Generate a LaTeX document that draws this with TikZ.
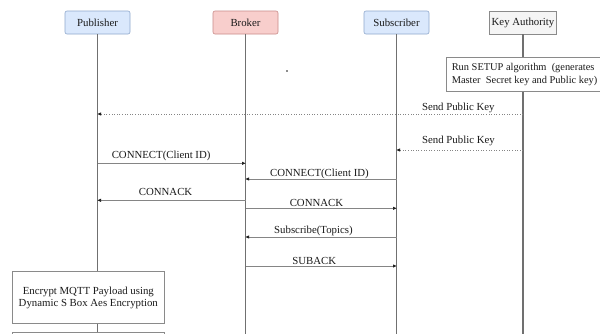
\documentclass[tikz,border=0pt]{standalone}
\usepackage{fontspec}
\setmainfont{Liberation Serif}
\usetikzlibrary{arrows.meta}

\definecolor{pubfill}{HTML}{DAE8FC}
\definecolor{publine}{HTML}{8FA8CC}
\definecolor{brkfill}{HTML}{F8CECC}
\definecolor{brkline}{HTML}{C98A88}
\definecolor{kafill}{HTML}{F5F5F5}
\definecolor{kaline}{HTML}{8A8A8A}
\definecolor{lifegray}{HTML}{707070}
\definecolor{msggray}{HTML}{858585}
\definecolor{ink}{HTML}{1A1A1A}

\tikzset{
  txt/.style={font=\fontsize{10.8}{12}\selectfont, text=ink},
  head/.style={txt, rounded corners=2pt, line width=0.6pt,
    minimum width=65pt, minimum height=23pt, inner sep=0pt},
  plainbox/.style={txt, draw=kaline, fill=white, line width=0.6pt, inner sep=0pt},
  life/.style={draw=lifegray, line width=1.2pt},
  msg/.style={draw=msggray, line width=0.6pt,
    -{Triangle[length=3.5pt,width=3pt,fill=ink,color=ink]}},
  pkmsg/.style={msg, dotted},
  lbl/.style={txt, inner sep=1pt},
}

\begin{document}
\begin{tikzpicture}[x=1pt,y=-1pt]
  \clip (0,0) rectangle (600,333);
  \fill[white] (0,0) rectangle (600,333);

  % participants
  \node[head, fill=pubfill, draw=publine] (pub) at (97.5,22.5) {Publisher};
  \node[head, fill=brkfill, draw=brkline] (brk) at (245.5,22.5) {Broker};
  \node[head, fill=pubfill, draw=publine] (sub) at (396.5,22.5) {Subscriber};
  \node[head, fill=kafill, draw=kaline, rounded corners=0pt,
        minimum width=67pt] (ka) at (523,22.5) {Key Authority};

  % key authority setup step
  \node[plainbox, anchor=north west, minimum height=34pt, inner xsep=5.5pt,
        align=left, font=\fontsize{10.4}{12.5}\selectfont] (setup) at (446,57)
        {Run SETUP algorithm\ \ (generates\\Master\ \ Secret key and Public key)};

  % publisher payload encryption step
  \node[plainbox, minimum width=152pt, minimum height=51.6pt, align=center]
        (enc) at (88.3,297.5)
        {Encrypt MQTT Payload using\\Dynamic S Box Aes Encryption};
  \node[plainbox, anchor=north, minimum width=152pt, minimum height=20pt]
        (next) at (88.3,332) {};

  % lifelines
  \draw[life] (pub.south) -- (pub |- enc.north);
  \draw[life] (pub |- enc.south) -- (pub |- next.north);
  \draw[life] (brk.south) -- (brk |- 0,340);
  \draw[life] (sub.south) -- (sub |- 0,340);
  \draw[life] (ka.south) -- (ka |- setup.north);
  \draw[life] (ka |- setup.south) -- (ka |- 0,340);

  % stray mark
  \fill[ink] (287,71) circle (0.8pt);

  % key distribution
  \draw[pkmsg] (ka |- 0,114) -- (pub |- 0,114)
     node[lbl, pos=0.152, above=0pt] {Send Public Key};
  \draw[pkmsg] (ka |- 0,150) -- (sub |- 0,150)
     node[lbl, pos=0.51, above=3pt] {Send Public Key};

  % MQTT exchange
  \draw[msg] (pub |- 0,163.3) -- (brk |- 0,163.3)
     node[lbl, pos=0.43, above=1.5pt] {CONNECT(Client ID)};
  \draw[msg] (sub |- 0,179) -- (brk |- 0,179)
     node[lbl, pos=0.51, above=-1pt] {CONNECT(Client ID)};
  \draw[msg] (brk |- 0,200.3) -- (pub |- 0,200.3)
     node[lbl, pos=0.54, above=3.5pt] {CONNACK};
  \draw[msg] (brk |- 0,208.3) -- (sub |- 0,208.3)
     node[lbl, pos=0.47, above=0pt] {CONNACK};
  \draw[msg] (sub |- 0,237) -- (brk |- 0,237)
     node[lbl, pos=0.55, above=-0.5pt] {Subscribe(Topics)};
  \draw[msg] (brk |- 0,266) -- (sub |- 0,266)
     node[lbl, pos=0.455, above=0pt] {SUBACK};
\end{tikzpicture}
\end{document}
